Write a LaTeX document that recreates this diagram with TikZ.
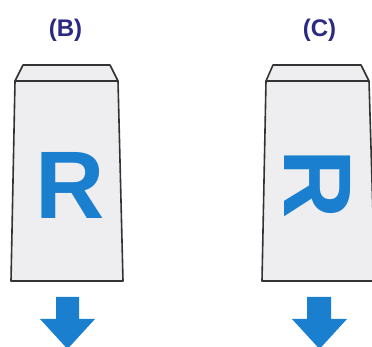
\documentclass[tikz,border=0pt]{standalone}
\usepackage{fontspec}
\setmainfont{Liberation Sans}
\definecolor{labelnavy}{HTML}{2A2A84}
\definecolor{letterblue}{HTML}{1A7FCF}
\definecolor{paperfill}{HTML}{EEEEF0}
\definecolor{edgegray}{HTML}{333333}
\tikzset{
  envelope/.style={fill=paperfill, draw=edgegray, line width=1.6pt, line join=round},
  caption/.style={font=\bfseries\fontsize{24}{26}\selectfont, text=labelnavy, inner sep=0pt},
  bigletter/.style={font=\bfseries\fontsize{96}{100}\selectfont, text=letterblue, inner sep=0pt},
  downarrow/.style={fill=letterblue, draw=none}
}
\begin{document}
\begin{tikzpicture}[x=1pt,y=1pt]
  \useasboundingbox (0,0) rectangle (372,347);
  \clip (0,0) rectangle (372,347);

  % captions
  \node[caption] (capB) at (65.5,317) {(B)};
  \node[caption] (capC) at (319.5,317) {(C)};

  % envelope B: body and flap
  \draw[envelope] (15,266) -- (11,66) -- (123,66) -- (118,266) -- cycle;
  \draw[envelope] (15,266) -- (23,282) -- (110,282) -- (118,266) -- cycle;

  % envelope C: body and flap
  \draw[envelope] (266,266) -- (262,66) -- (375,66) -- (369,266) -- cycle;
  \draw[envelope] (266,266) -- (273,282) -- (361,282) -- (369,266) -- cycle;

  % letters: upright, and turned a quarter clockwise
  \node[bigletter] (letB) at (70.5,161.5) {R};
  \node[bigletter, rotate=-90] (letC) at (318,163) {R};

  % block arrows below
  \fill[downarrow] (56,50) -- (79,50) -- (79,28) -- (95,28) -- (67.5,-2)
     -- (40,28) -- (56,28) -- cycle;
  \fill[downarrow] (307,50) -- (331,50) -- (331,28) -- (347,28) -- (319.5,-2)
     -- (292,28) -- (307,28) -- cycle;
\end{tikzpicture}
\end{document}
